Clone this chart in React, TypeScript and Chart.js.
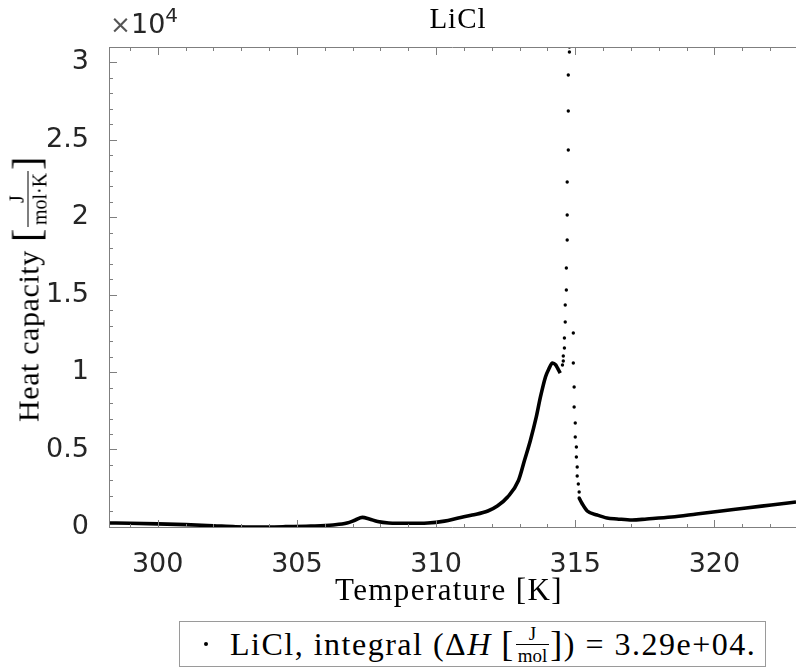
import React, { useEffect, useRef } from 'react';
import { Chart, registerables } from 'chart.js';

Chart.register(...registerables);

// ---- Data (Temperature [K], Heat capacity [J/(mol K)]) ----
const preT = [298.25, 299.0, 300.0, 301.0, 302.0, 302.8, 303.5, 304.5, 305.5, 306.3, 306.8, 307.1, 307.35, 307.6, 307.9, 308.3, 309.0, 309.7, 310.3, 310.8, 311.3, 311.86, 312.2, 312.57, 312.96, 313.18, 313.39, 313.6, 313.75, 313.93, 314.05, 314.18, 314.3, 314.36, 314.46];
const preCp = [260, 240, 200, 150, 80, 20, 0, 20, 60, 130, 250, 450, 620, 520, 350, 260, 240, 260, 380, 580, 770, 1030, 1350, 1935, 3000, 4320, 5600, 7100, 8390, 9680, 10200, 10580, 10450, 10260, 9930];

const spikeT = [314.54, 314.57, 314.57, 314.61, 314.61, 314.64, 314.64, 314.68, 314.68, 314.71, 314.71, 314.71, 314.75, 314.75, 314.75, 314.79, 314.79, 314.93, 314.93, 314.96, 314.96, 315.0, 315.0, 315.04, 315.04, 315.07, 315.07, 315.11, 315.14, 315.14];
const spikeCp = [10450, 10710, 11030, 11550, 12190, 13230, 14320, 15290, 16710, 18520, 20130, 22260, 24320, 26840, 29160, 30650, 30970, 12520, 10580, 9030, 7740, 6710, 5810, 5160, 4520, 3870, 3290, 2770, 2260, 1870];

const postT = [315.14, 315.25, 315.43, 315.79, 316.14, 316.5, 317.04, 317.57, 318.46, 319.36, 320.25, 321.14, 322.04, 322.93];
const postCp = [1870, 1500, 1030, 770, 580, 520, 450, 520, 650, 840, 1030, 1230, 1420, 1610];

const xTickValues = [300, 305, 310, 315, 320];
const yTickValues = [0, 5000, 10000, 15000, 20000, 25000, 30000];
const xMinorStep = 1;
const yMinorStep = 1000;

const X_MIN = 298.25;
const X_MAX = 322.93;
const Y_MIN = -65;
const Y_MAX = 30970;

const AXIS_COLOR = '#7f7f7f';
const TICK_COLOR = '#262626';
const SERIF = '"Liberation Serif", "Times New Roman", serif';
const SANS = '"DejaVu Sans", sans-serif';

const axesPlugin = {
  id: 'matlabAxes',
  afterDraw(chart: any) {
    const { ctx, chartArea, scales } = chart;
    const { left, right, top, bottom } = chartArea;
    const xs = scales.x;
    const ys = scales.y;
    ctx.save();
    ctx.strokeStyle = AXIS_COLOR;
    ctx.lineWidth = 1;
    ctx.beginPath();
    ctx.moveTo(left + 0.5, top);
    ctx.lineTo(left + 0.5, bottom);
    ctx.moveTo(left, top + 0.5);
    ctx.lineTo(right, top + 0.5);
    ctx.moveTo(left, bottom - 0.5);
    ctx.lineTo(right, bottom - 0.5);
    for (let t = Math.ceil(X_MIN); t <= X_MAX; t += xMinorStep) {
      const px = Math.round(xs.getPixelForValue(t)) + 0.5;
      const len = xTickValues.includes(t) ? 8 : 4;
      ctx.moveTo(px, bottom);
      ctx.lineTo(px, bottom - len);
      ctx.moveTo(px, top);
      ctx.lineTo(px, top + len);
    }
    for (let v = 0; v <= Y_MAX; v += yMinorStep) {
      const py = Math.round(ys.getPixelForValue(v)) + 0.5;
      const len = yTickValues.includes(v) ? 8 : 4;
      ctx.moveTo(left, py);
      ctx.lineTo(left + len, py);
    }
    ctx.stroke();
    ctx.restore();
  },
};

const Frac = ({ num, den, size }: { num: string; den: string; size: number }) => (
  <span
    style={{
      display: 'inline-flex',
      flexDirection: 'column',
      alignItems: 'center',
      fontSize: size,
      lineHeight: 1,
      margin: '0 1px',
      verticalAlign: 'middle',
      letterSpacing: 0,
    }}
  >
    <span style={{ padding: '0 2px 1px' }}>{num}</span>
    <span style={{ borderTop: '1px solid #000', padding: '1px 2px 0' }}>{den}</span>
  </span>
);

export default function App() {
  const canvasRef = useRef<HTMLCanvasElement | null>(null);

  useEffect(() => {
    if (!canvasRef.current) return;
    const toXY = (xs: number[], ys: number[]) => xs.map((x, i) => ({ x, y: ys[i] }));
    const chart = new Chart(canvasRef.current, {
      type: 'line',
      data: {
        datasets: [
          {
            label: 'pre',
            data: toXY(preT, preCp),
            borderColor: '#000',
            borderWidth: 3.6,
            pointRadius: 0,
            cubicInterpolationMode: 'monotone',
            fill: false,
          },
          {
            label: 'spike',
            data: toXY(spikeT, spikeCp),
            showLine: false,
            pointRadius: 1.7,
            pointBorderWidth: 0,
            pointBackgroundColor: '#000',
            borderColor: '#000',
          },
          {
            label: 'post',
            data: toXY(postT, postCp),
            borderColor: '#000',
            borderWidth: 3.6,
            pointRadius: 0,
            cubicInterpolationMode: 'monotone',
            fill: false,
          },
        ],
      },
      options: {
        animation: false,
        responsive: false,
        maintainAspectRatio: false,
        layout: { padding: { top: 47, left: 0, right: 0, bottom: 0 } },
        plugins: {
          legend: { display: false },
          title: { display: false },
          tooltip: { enabled: false },
        },
        scales: {
          x: {
            type: 'linear',
            min: X_MIN,
            max: X_MAX,
            grid: { display: false },
            border: { display: false },
            afterFit: (s: any) => {
              s.height = 142;
            },
            afterBuildTicks: (s: any) => {
              s.ticks = xTickValues.map((v) => ({ value: v }));
            },
            ticks: {
              includeBounds: false,
              padding: 13,
              color: TICK_COLOR,
              font: { family: SANS, size: 27 },
              maxRotation: 0,
              autoSkip: false,
              callback: (v: any) => String(v),
            },
          },
          y: {
            type: 'linear',
            min: Y_MIN,
            max: Y_MAX,
            grid: { display: false },
            border: { display: false },
            afterFit: (s: any) => {
              s.width = 109;
            },
            afterBuildTicks: (s: any) => {
              s.ticks = yTickValues.map((v) => ({ value: v }));
            },
            ticks: {
              includeBounds: false,
              padding: 12,
              color: TICK_COLOR,
              font: { family: SANS, size: 27 },
              autoSkip: false,
              callback: (v: any) => String(Number(v) / 10000),
            },
          },
        },
      },
      plugins: [axesPlugin],
    } as any);
    return () => chart.destroy();
  }, []);

  return (
    <div style={{ position: 'absolute', left: 0, top: 0, width: 800, height: 670, background: '#fff', overflow: 'hidden' }}>
      <canvas ref={canvasRef} width={800} height={670} style={{ position: 'absolute', left: 0, top: 0, width: 800, height: 670 }} />

      {/* Title */}
      <div style={{ position: 'absolute', left: 358, top: 4, width: 200, textAlign: 'center', fontFamily: SERIF, fontSize: 29, lineHeight: 1, color: '#000', letterSpacing: 1 }}>
        LiCl
      </div>

      {/* x10^4 exponent */}
      <div style={{ position: 'absolute', left: 110, top: 10, fontFamily: SANS, fontSize: 27, lineHeight: 1, color: TICK_COLOR, whiteSpace: 'nowrap' }}>
        <span style={{ color: '#555', fontSize: 25 }}>×</span>
        <span>10</span>
        <span style={{ fontSize: 20, position: 'relative', top: -11 }}>4</span>
      </div>

      {/* x label */}
      <div style={{ position: 'absolute', left: 249, top: 574, width: 400, textAlign: 'center', fontFamily: SERIF, fontSize: 31, lineHeight: 1, color: '#000', letterSpacing: 1.4, whiteSpace: 'nowrap' }}>
        Temperature [K]
      </div>

      {/* y label */}
      <div
        style={{
          position: 'absolute',
          left: 28,
          top: 289,
          transform: 'translate(-50%, -50%) rotate(-90deg)',
          fontFamily: SERIF,
          fontSize: 30,
          lineHeight: 1,
          color: '#000',
          whiteSpace: 'nowrap',
          display: 'flex',
          alignItems: 'center',
          letterSpacing: 0.6,
        }}
      >
        <span>Heat capacity&nbsp;</span>
        <span style={{ fontSize: 40, fontWeight: 300, position: 'relative', top: -1 }}>[</span>
        <Frac num="J" den="mol·K" size={20} />
        <span style={{ fontSize: 40, fontWeight: 300, position: 'relative', top: -1 }}>]</span>
      </div>

      {/* Legend */}
      <div
        style={{
          position: 'absolute',
          left: 179,
          top: 621,
          width: 585,
          height: 44,
          border: '1px solid #9a9a9a',
          background: '#fff',
          display: 'flex',
          alignItems: 'center',
          fontFamily: SERIF,
          fontSize: 32,
          lineHeight: 1,
          color: '#000',
          whiteSpace: 'nowrap',
          letterSpacing: 1.5,
        }}
      >
        <span style={{ display: 'inline-block', width: 4, height: 4, borderRadius: 2, background: '#000', marginLeft: 24, marginRight: 22 }} />
        <span>LiCl, integral (Δ</span>
        <span style={{ fontStyle: 'italic' }}>H</span>
        <span>&nbsp;</span>
        <span style={{ fontSize: 36 }}>[</span>
        <Frac num="J" den="mol" size={19} />
        <span style={{ fontSize: 36 }}>]</span>
        <span>) = 3.29e+04.</span>
      </div>
    </div>
  );
}
